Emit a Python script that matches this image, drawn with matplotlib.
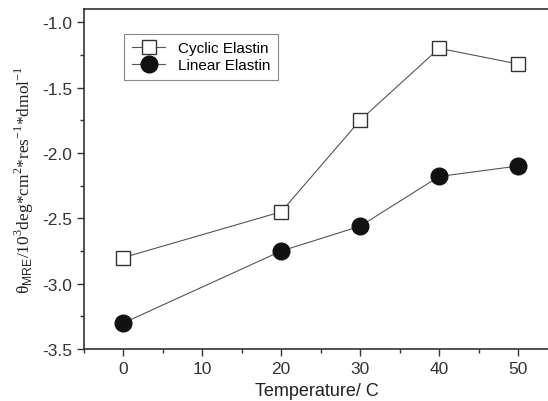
import numpy as np
import matplotlib.pyplot as plt
from matplotlib.ticker import MultipleLocator

plt.rcParams['font.family'] = ['Liberation Sans', 'DejaVu Sans']
plt.rcParams['mathtext.fontset'] = 'custom'
plt.rcParams['mathtext.rm'] = 'Liberation Serif'
plt.rcParams['mathtext.sf'] = 'Liberation Sans'

temperature = [0, 20, 30, 40, 50]
cyclic = [-2.80, -2.45, -1.75, -1.20, -1.32]
linear = [-3.30, -2.75, -2.56, -2.18, -2.10]

fig = plt.figure(figsize=(5.48, 4.02), dpi=100)
ax = fig.add_axes([0.153, 0.129, 0.85, 0.846])

ax.plot(temperature, cyclic, '-', color='#555555', lw=0.8, marker='s',
        markersize=10, markerfacecolor='white', markeredgecolor='#333333',
        markeredgewidth=1.0, label='Cyclic Elastin')
ax.plot(temperature, linear, '-', color='#555555', lw=0.8, marker='o',
        markersize=12, markerfacecolor='#111111', markeredgecolor='#111111',
        label='Linear Elastin')

ax.set_xlim(-5, 54)
ax.set_ylim(-3.5, -0.9)
ax.xaxis.set_major_locator(MultipleLocator(10))
ax.xaxis.set_minor_locator(MultipleLocator(5))
ax.yaxis.set_minor_locator(MultipleLocator(0.25))
yt = np.arange(-3.5, -0.99, 0.5)
ax.set_yticks(yt)
ax.set_yticklabels(['%.1f' % v for v in yt])
ax.tick_params(which='major', direction='out', length=5, width=1, labelsize=12.5, colors='#333333')
ax.tick_params(which='minor', direction='out', length=3, width=1, colors='#333333')
for s in ax.spines.values():
    s.set_linewidth(1.2)
    s.set_color('#333333')

ax.set_xlabel('Temperature/ C', fontsize=13, color='#222222')
ax.set_ylabel('θ$_{\\mathsf{MRE}}$/10$^{3}$deg*cm$^{2}$*res$^{-1}$*dmol$^{-1}$',
              fontsize=12.5, family='Liberation Serif', color='#222222')

leg = ax.legend(loc='upper left', bbox_to_anchor=(0.07, 0.95), fontsize=11,
                fancybox=False, edgecolor='#888888', framealpha=1,
                handlelength=2.2, borderpad=0.5, labelspacing=0.2)
leg.get_frame().set_linewidth(0.8)

fig.savefig('out.png', dpi=100)
